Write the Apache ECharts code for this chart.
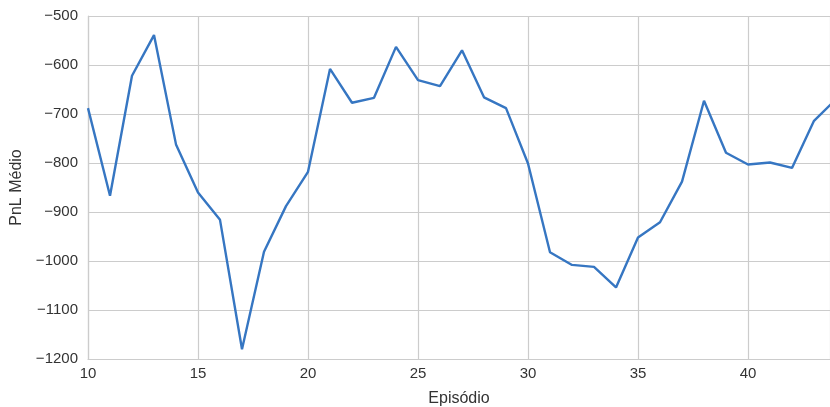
<!DOCTYPE html>
<html>
<head>
<meta charset="utf-8">
<script src="https://cdn.jsdelivr.net/npm/echarts@6/dist/echarts.min.js"></script>
<style>
html,body{margin:0;padding:0;background:#fff;}
#chart{width:830px;height:407px;}
</style>
</head>
<body>
<div id="chart"></div>
<script>
const episodes = [10,11,12,13,14,15,16,17,18,19,20,21,22,23,24,25,26,27,28,29,30,31,32,33,34,35,36,37,38,39,40,41,42,43,44];
const pnlMedio = [-688,-867,-622,-539,-762,-860,-916,-1180,-981,-888,-818,-608,-677,-667,-563,-631,-643,-570,-666,-688,-801,-982,-1008,-1012,-1054,-952,-921,-838,-673,-779,-803,-799,-810,-714,-670];
const xTicks = [10,15,20,25,30,35,40];
const xLabel = 'Episódio';
const yLabel = 'PnL Médio';

const chart = echarts.init(document.getElementById('chart'), null, {renderer:'canvas'});
const gridColor = '#cccccc';
const textColor = '#333333';
const font = '"Liberation Sans", Arial, Helvetica, sans-serif';
chart.setOption({
  animation:false,
  backgroundColor:'#ffffff',
  grid:{left:88, right:0, top:16, bottom:48, containLabel:false, outerBoundsMode:'none'},
  xAxis:{
    type:'value', min:10, max:43.727, interval:5,
    name:xLabel, nameLocation:'middle', nameGap:32,
    nameTextStyle:{color:textColor, fontSize:16, fontFamily:font},
    axisLine:{show:true, lineStyle:{color:gridColor, width:1.2}},
    axisTick:{show:false},
    axisLabel:{color:textColor, fontSize:15, fontFamily:font, margin:7,
      showMaxLabel:false,
      formatter:v => xTicks.includes(v) ? String(v) : ''},
    splitLine:{show:true, lineStyle:{color:gridColor, width:1.2}}
  },
  yAxis:{
    type:'value', min:-1200, max:-500, interval:100,
    name:yLabel, nameLocation:'middle', nameGap:57,
    nameTextStyle:{color:textColor, fontSize:16, fontFamily:font},
    axisLine:{show:true, lineStyle:{color:gridColor, width:1.2}},
    axisTick:{show:false},
    axisLabel:{color:textColor, fontSize:15, fontFamily:font, margin:10,
      formatter:v => String(v).replace('-', '\u2212')},
    splitLine:{show:true, lineStyle:{color:gridColor, width:1.2}}
  },
  series:[{
    type:'line',
    data:episodes.map((e,i)=>[e,pnlMedio[i]]),
    showSymbol:false, symbol:'none',
    lineStyle:{color:'#3676c2', width:2.4},
    clip:true
  }]
});
</script>
</body>
</html>
